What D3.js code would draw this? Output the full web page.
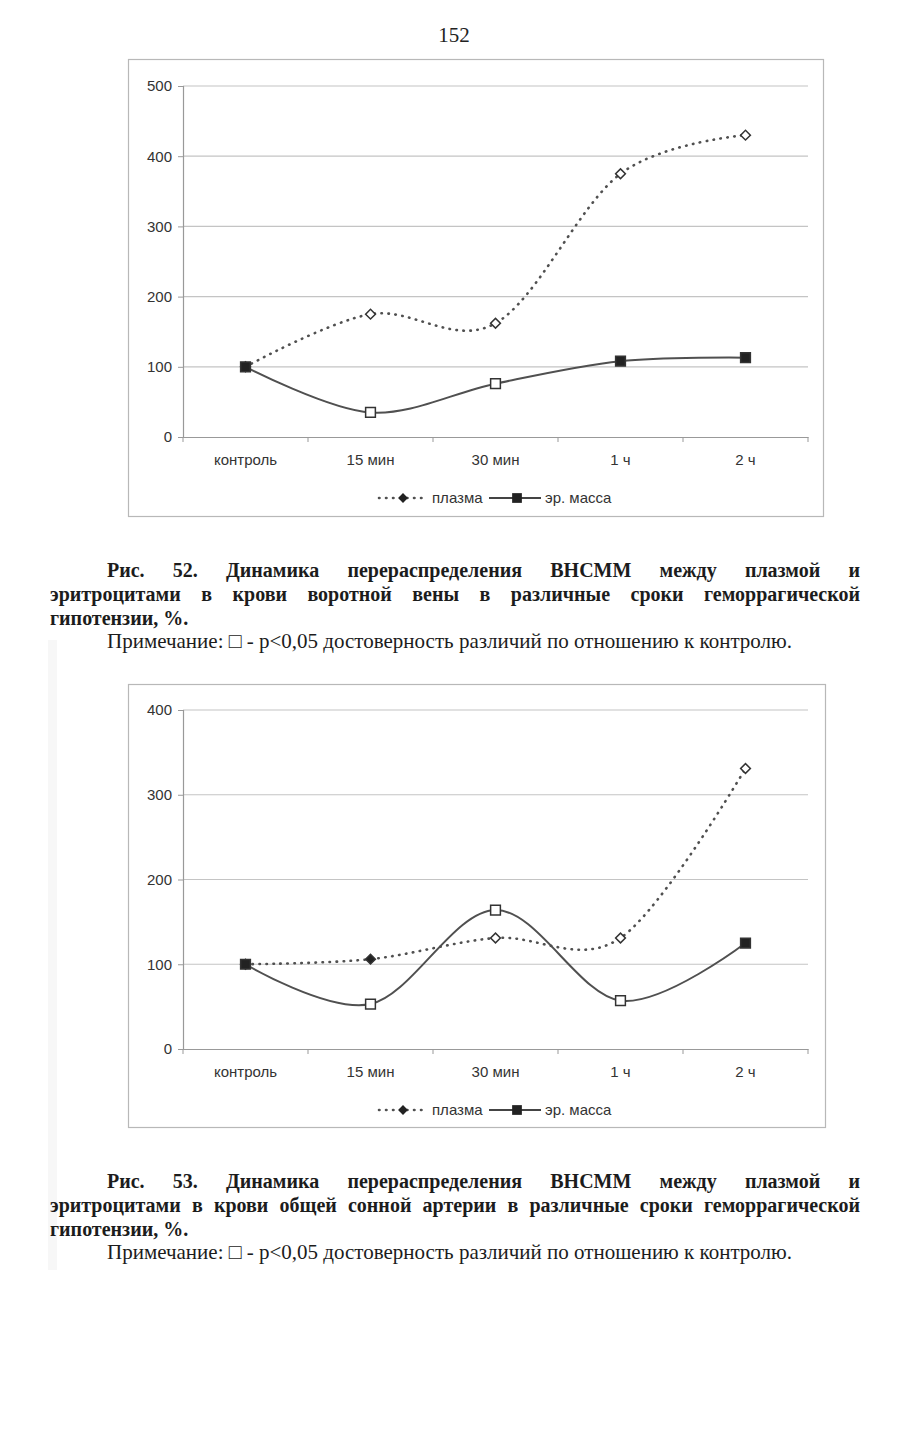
<!DOCTYPE html>
<html lang="ru">
<head>
<meta charset="utf-8">
<script src="https://d3js.org/d3.v7.min.js"></script>
<style>
  body { margin: 0; background: #fff; }
  svg { display: block; }
  .tick text { font-family: "Liberation Sans", Arial, sans-serif; }
</style>
</head>
<body>
<div id="page"></div>
<script>
// chart values
var categories = ["контроль", "15 мин", "30 мин", "1 ч", "2 ч"];

var plasma52 = [100, 175, 162, 375, 430];
var mass52 = [100, 35, 76, 108, 113];
var plasmaOpen52 = [0, 1, 1, 1, 1];   // 1 = open marker (p<0,05)
var massOpen52 = [0, 1, 1, 0, 0];
var yTicks52 = [0, 100, 200, 300, 400, 500];

var plasma53 = [100, 106, 131, 131, 331];
var mass53 = [100, 53, 164, 57, 125];
var plasmaOpen53 = [0, 0, 1, 1, 1];
var massOpen53 = [0, 1, 1, 1, 0];
var yTicks53 = [0, 100, 200, 300, 400];

var legendLabels = ["плазма", "эр. масса"];

var caption52 = [
    "Рис. 52. Динамика перераспределения ВНСММ между плазмой и",
    "эритроцитами в крови воротной вены в различные сроки геморрагической",
    "гипотензии, %."
];
var caption53 = [
    "Рис. 53. Динамика перераспределения ВНСММ между плазмой и",
    "эритроцитами в крови общей сонной артерии в различные сроки геморрагической",
    "гипотензии, %."
];
var note = "Примечание: \u25A1 - p<0,05 достоверность различий по отношению к контролю.";

var width = 909, height = 1429;
var axisFont = 15;

var svg = d3.select("#page").append("svg")
    .attr("width", width)
    .attr("height", height);

// faint scan shadow on the left
svg.append("rect")
    .attr("x", 48).attr("y", 640)
    .attr("width", 9).attr("height", 630)
    .attr("fill", "#f7f7f7");

// page number
svg.append("text")
    .attr("x", 454).attr("y", 42)
    .attr("text-anchor", "middle")
    .attr("font-family", "'Liberation Serif', 'Times New Roman', serif")
    .attr("font-size", 21)
    .attr("fill", "#222")
    .text("152");

function drawChart(opt) {
    var g = svg.append("g");

    // outer frame
    g.append("rect")
        .attr("x", opt.frame[0] + 0.5).attr("y", opt.frame[1] + 0.5)
        .attr("width", opt.frame[2]).attr("height", opt.frame[3])
        .attr("fill", "none")
        .attr("stroke", "#b8b8b8")
        .attr("stroke-width", 1.2);

    var xBand = d3.scaleBand().domain(categories).range([opt.left, opt.right]);
    var xc = function(i) { return xBand(categories[i]) + xBand.bandwidth() / 2; };
    var y = d3.scaleLinear().domain([0, d3.max(opt.yTicks)]).range([opt.bottom, opt.top]);

    // gridlines
    g.selectAll(".grid").data(opt.yTicks.filter(function(d) { return d > 0; })).enter()
        .append("line")
        .attr("x1", opt.left).attr("x2", opt.right)
        .attr("y1", y).attr("y2", y)
        .attr("stroke", "#c4c4c4")
        .attr("stroke-width", 1.2);

    // y axis
    var yAxis = g.append("g")
        .attr("transform", "translate(" + opt.left + ",0)")
        .call(d3.axisLeft(y).tickValues(opt.yTicks).tickSize(5).tickPadding(6));
    yAxis.select(".domain").attr("stroke", "#999").attr("stroke-width", 1.2);
    yAxis.selectAll(".tick line").attr("stroke", "#999");
    yAxis.selectAll(".tick text").attr("font-size", axisFont).attr("fill", "#333");

    // x axis: labels centred in bands, ticks at band edges
    var xAxis = g.append("g")
        .attr("transform", "translate(0," + opt.bottom + ")")
        .call(d3.axisBottom(xBand).tickSize(0).tickPadding(17));
    xAxis.select(".domain").attr("stroke", "#999").attr("stroke-width", 1.2);
    xAxis.selectAll(".tick text").attr("font-size", axisFont).attr("fill", "#333");
    var edges = categories.map(function(c) { return xBand(c); }).concat([opt.right]);
    g.selectAll(".xedge").data(edges).enter()
        .append("line")
        .attr("x1", function(d) { return d; }).attr("x2", function(d) { return d; })
        .attr("y1", opt.bottom).attr("y2", opt.bottom + 5)
        .attr("stroke", "#999");

    var line = d3.line()
        .x(function(d, i) { return xc(i); })
        .y(function(d) { return y(d); })
        .curve(d3.curveCardinal.tension(0));

    g.append("path")
        .attr("d", line(opt.plasma))
        .attr("fill", "none")
        .attr("stroke", "#505050")
        .attr("stroke-width", 2.6)
        .attr("stroke-linecap", "round")
        .attr("stroke-dasharray", "0.5,6.5");

    g.append("path")
        .attr("d", line(opt.mass))
        .attr("fill", "none")
        .attr("stroke", "#505050")
        .attr("stroke-width", 2);

    var diamond = d3.symbol().type(d3.symbolSquare).size(48);
    var square = d3.symbol().type(d3.symbolSquare).size(95);

    g.selectAll(".pm").data(opt.plasma).enter()
        .append("path")
        .attr("d", diamond)
        .attr("transform", function(d, i) { return "translate(" + xc(i) + "," + y(d) + ") rotate(45)"; })
        .attr("fill", function(d, i) { return opt.plasmaOpen[i] ? "#fff" : "#222"; })
        .attr("stroke", "#333")
        .attr("stroke-width", 1.5);

    g.selectAll(".mm").data(opt.mass).enter()
        .append("path")
        .attr("d", square)
        .attr("transform", function(d, i) { return "translate(" + xc(i) + "," + y(d) + ")"; })
        .attr("fill", function(d, i) { return opt.massOpen[i] ? "#fff" : "#222"; })
        .attr("stroke", "#333")
        .attr("stroke-width", 1.5);

    // legend
    var ly = opt.legendY;
    var lg = g.append("g").attr("font-family", "'Liberation Sans', Arial, sans-serif")
        .attr("font-size", axisFont).attr("fill", "#333");
    lg.append("line").attr("x1", 379).attr("x2", 428).attr("y1", ly).attr("y2", ly)
        .attr("stroke", "#505050").attr("stroke-width", 2.6)
        .attr("stroke-linecap", "round").attr("stroke-dasharray", "0.5,6.5");
    lg.append("path").attr("d", diamond)
        .attr("transform", "translate(403," + ly + ") rotate(45)")
        .attr("fill", "#222");
    lg.append("text").attr("x", 432).attr("y", ly + 5).text(legendLabels[0]);
    lg.append("line").attr("x1", 489).attr("x2", 541).attr("y1", ly).attr("y2", ly)
        .attr("stroke", "#444").attr("stroke-width", 2);
    lg.append("path").attr("d", square)
        .attr("transform", "translate(517," + ly + ")")
        .attr("fill", "#222");
    lg.append("text").attr("x", 545).attr("y", ly + 5).text(legendLabels[1]);
}

drawChart({
    frame: [128, 59, 695, 457],
    left: 183, right: 808, top: 86, bottom: 437,
    yTicks: yTicks52,
    plasma: plasma52, mass: mass52,
    plasmaOpen: plasmaOpen52, massOpen: massOpen52,
    legendY: 498
});

drawChart({
    frame: [128, 684, 697, 443],
    left: 183, right: 808, top: 710, bottom: 1049,
    yTicks: yTicks53,
    plasma: plasma53, mass: mass53,
    plasmaOpen: plasmaOpen53, massOpen: massOpen53,
    legendY: 1110
});

// justified caption lines, word by word
var serif = "'Liberation Serif', 'Times New Roman', serif";

function justifyLine(text, x0, x1, y, bold, justify) {
    var t = svg.append("g")
        .attr("font-family", serif)
        .attr("font-size", bold ? 20 : 21)
        .attr("font-weight", bold ? "bold" : "normal")
        .attr("fill", "#1c1c1c");
    if (!justify) {
        t.append("text").attr("x", x0).attr("y", y).text(text);
        return;
    }
    var words = text.split(" ");
    var nodes = words.map(function(w) {
        return t.append("text").attr("y", y).text(w);
    });
    var widths = nodes.map(function(n) { return n.node().getComputedTextLength(); });
    var gap = (x1 - x0 - d3.sum(widths)) / (words.length - 1);
    var x = x0;
    nodes.forEach(function(n, i) {
        n.attr("x", x);
        x += widths[i] + gap;
    });
}

function caption(lines, top) {
    justifyLine(lines[0], 107, 860, top, true, true);
    justifyLine(lines[1], 50, 860, top + 24, true, true);
    justifyLine(lines[2], 50, 860, top + 48, true, false);
    justifyLine(note, 107, 860, top + 71, false, false);
}

caption(caption52, 577);
caption(caption53, 1188);
</script>
</body>
</html>
